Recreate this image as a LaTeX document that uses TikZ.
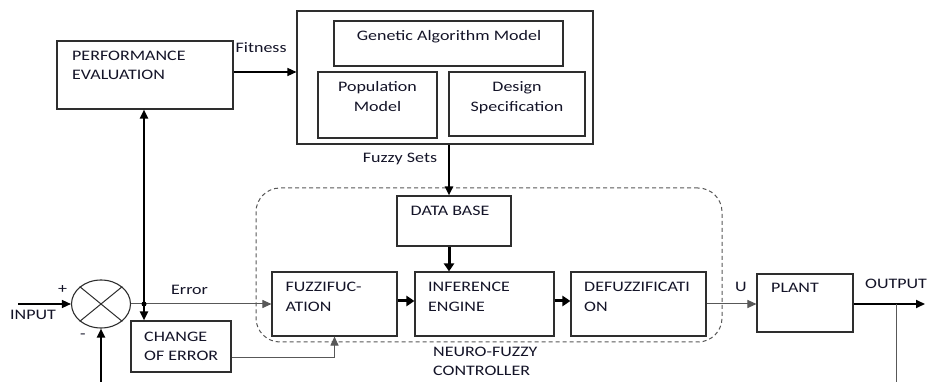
\documentclass[tikz,border=0pt]{standalone}
\usepackage{fontspec}
\setmainfont[FakeStretch=1.24]{Carlito}
\usetikzlibrary{arrows.meta,calc,positioning,shapes.geometric}
\definecolor{gaInk}{HTML}{141428}
\definecolor{gaLine}{HTML}{2E2E2E}
\definecolor{gaGrey}{HTML}{585858}
\begin{document}
\begin{tikzpicture}[x=1pt,y=-1pt,>={Triangle[length=9pt,width=8pt]},line join=miter]
\path[fill=white] (0,0) rectangle (930,382);
\useasboundingbox (0,0) rectangle (930,382);
\tikzset{box/.style={draw=gaLine,line width=1.1pt,inner sep=0pt},txt/.style={text=gaInk,font=\fontsize{14.5}{19.5}\selectfont,inner sep=0pt,align=left},thinwire/.style={draw=gaGrey,line width=1pt},wire/.style={draw=black,line width=1.3pt},boldwire/.style={draw=black,line width=2pt},fatwire/.style={draw=black,line width=3pt,-{Triangle[length=8pt,width=10pt]}}}
% optimiser side
\node[box,minimum width=176pt,minimum height=68pt] (perf) at (145,75) {};
\node[txt,anchor=north west] (perfT) at (72,50.5) {PERFORMANCE\\EVALUATION};
\node[box,minimum width=296pt,minimum height=133pt] (ga) at (445,77.5) {};
\node[box,minimum width=229pt,minimum height=45pt] (gam) at (448.5,43.5) {};
\node[txt,anchor=base] (gamT) at (449,40.5) {Genetic Algorithm Model};
\node[box,minimum width=119pt,minimum height=66pt] (pop) at (377.5,105) {};
\node[txt,anchor=north,align=center] (popT) at (377.5,81.5) {Population\\Model};
\node[box,minimum width=136pt,minimum height=64pt] (des) at (517,104) {};
\node[txt,anchor=north,align=center] (desT) at (517,81.5) {Design\\Specification};
% neuro-fuzzy controller
\node[draw=gaGrey,line width=1pt,dash pattern=on 4pt off 3pt,rounded corners=24pt,minimum width=466pt,minimum height=154pt] (ctrl) at (489,265) {};
\node[box,minimum width=114pt,minimum height=50pt] (db) at (454,221) {};
\node[txt,anchor=base west] (dbT) at (410.5,216) {DATA BASE};
\node[box,minimum width=125pt,minimum height=64pt] (fuz) at (334.5,304) {};
\node[txt,anchor=north west] (fuzT) at (285.5,282) {FUZZIFUC-\\ATION};
\node[box,minimum width=139pt,minimum height=64pt] (inf) at (484.5,304) {};
\node[txt,anchor=north west] (infT) at (428,282) {INFERENCE\\ENGINE};
\node[box,minimum width=135pt,minimum height=64pt] (def) at (638.5,304) {};
\node[txt,anchor=north west] (defT) at (584,282) {DEFUZZIFICATI\\ON};
\node[txt,anchor=north west] (ctrlT) at (433,346.5) {NEURO-FUZZY\\CONTROLLER};
% loop
\node[box,minimum width=96pt,minimum height=58pt] (plant) at (805,303) {};
\node[txt,anchor=base west] (plantT) at (771,292.5) {PLANT};
\node[ellipse,draw=gaLine,line width=1.1pt,minimum width=59pt,minimum height=48pt,inner sep=0pt] (sum) at (101,304) {};
\draw[gaLine,line width=1pt] (sum.north west) -- (sum.south east) (sum.north east) -- (sum.south west);
\node[box,minimum width=100pt,minimum height=51pt] (coe) at (181,346.5) {};
\node[txt,anchor=north west] (coeT) at (144,331.5) {CHANGE\\OF ERROR};
% labels
\node[txt,anchor=base west] (fitT) at (235.5,52.3) {Fitness};
\node[txt,anchor=base] (fsT) at (400,162.5) {Fuzzy Sets};
\node[txt,anchor=base west] (errT) at (171,295) {Error};
\node[txt,anchor=base west] (inT) at (10,320) {INPUT};
\node[txt] (plusT) at (62.5,290) {+};
\node[txt] (minusT) at (83,336) {-};
\node[txt,anchor=base west] (uT) at (735,292) {U};
\node[txt,anchor=base west] (outT) at (865,289) {OUTPUT};
% connectors
\coordinate (in) at (18,304);
\coordinate (fb) at (101,382);
\coordinate (err) at (144,304);
\coordinate (out) at (925,304);
\coordinate (br) at (896,304);
\coordinate (brEnd) at (896,382);
\draw[wire,->] ([yshift=3pt]perf.east) -- ([yshift=3pt]perf.east -| ga.west);
\draw[boldwire,->] ([xshift=-5pt]db.north |- ga.south) -- ([xshift=-5pt]db.north);
\draw[fatwire] ([xshift=-5pt]db.south) -- ([xshift=-5pt]db.south |- inf.north);
\draw[fatwire] ([yshift=3pt]fuz.east) -- ([yshift=3pt]inf.west);
\draw[fatwire] ([yshift=3pt]inf.east) -- ([yshift=3pt]def.west);
\draw[thinwire,->] (def.east) -- (def.east -| plant.west);
\draw[boldwire,->] (plant.east |- out) -- (out);
\draw[thinwire] (br) -- (brEnd);
\draw[wire,->] (in) -- (sum.west);
\draw[boldwire,->] (fb) -- (sum.south);
\draw[thinwire,->] (sum.east) -- (fuz.west);
\fill (err) circle (2.5pt);
\draw[boldwire,->] (err) -- (err |- perf.south);
\draw[boldwire,->] (err) -- (err |- coe.north);
\draw[thinwire,->] ([yshift=-11.5pt]coe.east) -| (fuz.south);
\end{tikzpicture}
\end{document}
